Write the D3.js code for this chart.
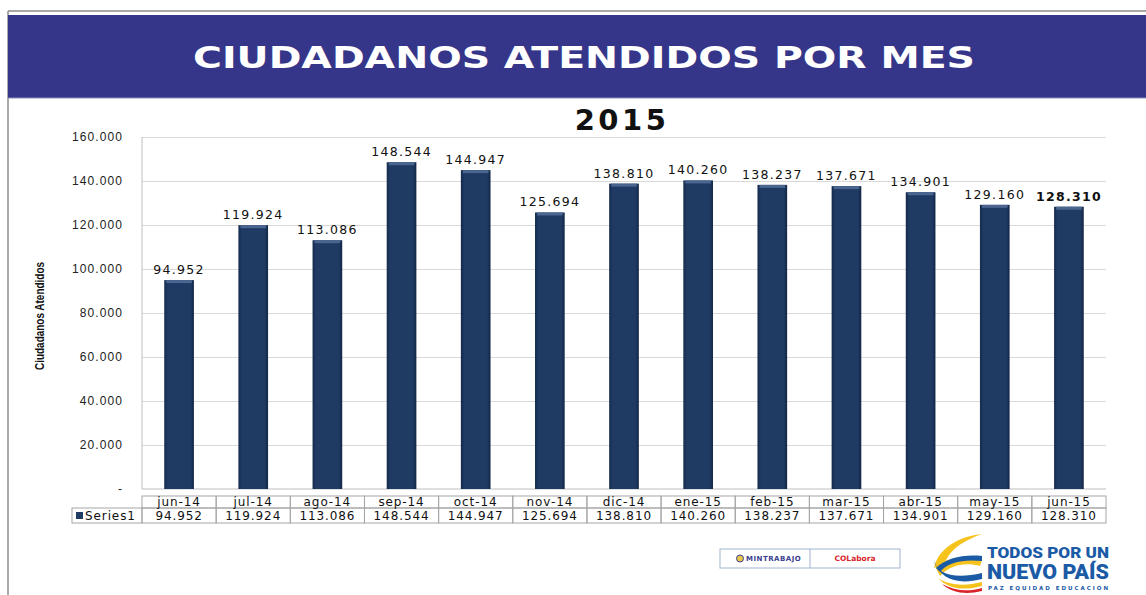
<!DOCTYPE html>
<html>
<head>
<meta charset="utf-8">
<title>Ciudadanos atendidos por mes</title>
<script src="https://cdn.jsdelivr.net/npm/d3@7"></script>
<style>
    body { margin:0; background:white; }
    svg { display:block; font-family:'DejaVu Sans', Verdana, sans-serif; }
    .grid line { stroke:#d9d9d9; }
    .grid path { display:none; }
    .yaxis path, .yaxis line { display:none; }
    .yaxis text { font-size:12px; fill:#222; letter-spacing:1.1px; }
    .lbl { font-size:12.5px; fill:#111; letter-spacing:1.3px; text-anchor:middle; }
    .tbl rect { fill:none; stroke:#a6a6a6; }
    .tbl text { font-size:12px; fill:#111; letter-spacing:0.9px; text-anchor:middle; }
</style>
</head>
<body>
<svg id="chart" width="1146" height="595"></svg>
<script>
// data
const months = ['jun-14','jul-14','ago-14','sep-14','oct-14','nov-14','dic-14',
                'ene-15','feb-15','mar-15','abr-15','may-15','jun-15'];
const atendidos = [94952, 119924, 113086, 148544, 144947, 125694, 138810,
                   140260, 138237, 137671, 134901, 129160, 128310];
const yTicks = [0, 20000, 40000, 60000, 80000, 100000, 120000, 140000, 160000];

const title = 'CIUDADANOS ATENDIDOS POR MES';
const subtitle = '2015';
const yTitle = 'Ciudadanos Atendidos';
const seriesName = 'Series1';

// layout
const plot = { left:142, right:1106, top:137, bottom:489 };
const rowH = 13;

const fmt = d3.formatLocale({ decimal:',', thousands:'.', grouping:[3], currency:['',''] }).format(',');

const svg = d3.select('#chart');

// gradient for the bevelled bars
const defs = svg.append('defs');
const grad = defs.append('linearGradient').attr('id','barGrad')
    .attr('x1','0').attr('x2','1').attr('y1','0').attr('y2','0');
grad.append('stop').attr('offset','0').attr('stop-color','#142a4c');
grad.append('stop').attr('offset','0.12').attr('stop-color','#1f3b64');
grad.append('stop').attr('offset','0.88').attr('stop-color','#1f3b64');
grad.append('stop').attr('offset','1').attr('stop-color','#122646');

// frame + header band
svg.append('line').attr('x1',8).attr('x2',1146).attr('y1',11).attr('y2',11)
    .attr('stroke','#8c8c8c').attr('stroke-width',1.5);
svg.append('line').attr('x1',8).attr('x2',8).attr('y1',11).attr('y2',595)
    .attr('stroke','#8c8c8c').attr('stroke-width',1.5);
svg.append('rect').attr('x',8).attr('y',15).attr('width',1138).attr('height',83)
    .attr('fill','#35368a');
svg.append('line').attr('x1',8).attr('x2',1146).attr('y1',98).attr('y2',98)
    .attr('stroke','#8e8fb8').attr('stroke-width',1);
svg.append('text').attr('x',584).attr('y',68).attr('text-anchor','middle')
    .attr('fill','white').attr('font-weight','bold').attr('font-size',30)
    .attr('textLength',782).attr('lengthAdjust','spacingAndGlyphs')
    .text(title);

svg.append('text').attr('x',622).attr('y',130).attr('text-anchor','middle')
    .attr('font-weight','bold').attr('font-size',29).attr('letter-spacing',3.5)
    .attr('fill','#111').text(subtitle);

// scales
const x = d3.scaleBand().domain(months).range([plot.left, plot.right])
    .paddingInner(0.6).paddingOuter(0.3);
const y = d3.scaleLinear().domain([0,160000]).range([plot.bottom, plot.top]);

// gridlines
svg.append('g').attr('class','grid')
    .attr('transform',`translate(${plot.left},0)`)
    .call(d3.axisLeft(y).tickValues(yTicks.slice(1)).tickSize(-(plot.right-plot.left)).tickFormat(''));
svg.append('line').attr('x1',plot.left).attr('x2',plot.left).attr('y1',plot.top).attr('y2',plot.bottom)
    .attr('stroke','#bfbfbf');
svg.append('line').attr('x1',plot.left).attr('x2',plot.right).attr('y1',plot.bottom).attr('y2',plot.bottom)
    .attr('stroke','#bfbfbf');

// y axis labels
svg.append('g').attr('class','yaxis')
    .attr('transform','translate(131,0)')
    .call(d3.axisLeft(y).tickValues(yTicks).tickSize(0).tickPadding(8)
        .tickFormat(d => d === 0 ? '-' : fmt(d)));

svg.append('text')
    .attr('transform','translate(44,316) rotate(-90)')
    .attr('text-anchor','middle')
    .attr('font-family',"'Liberation Sans Narrow','Arial Narrow','Liberation Sans',sans-serif")
    .attr('font-weight','bold').attr('font-size',13).attr('fill','#111')
    .attr('textLength',108).attr('lengthAdjust','spacingAndGlyphs')
    .text(yTitle);

// bars
const bars = svg.append('g').selectAll('g').data(atendidos).join('g');
bars.append('rect')
    .attr('x',(d,i) => x(months[i]))
    .attr('y',d => y(d))
    .attr('width',x.bandwidth())
    .attr('height',d => y(0) - y(d))
    .attr('fill','url(#barGrad)');
bars.append('rect')
    .attr('x',(d,i) => x(months[i]) + 2)
    .attr('y',d => y(d))
    .attr('width',x.bandwidth() - 4)
    .attr('height',3)
    .attr('fill','#4a6690');

// value labels
svg.append('g').selectAll('text').data(atendidos).join('text')
    .attr('class','lbl')
    .attr('x',(d,i) => x(months[i]) + x.bandwidth()/2)
    .attr('y',d => y(d) - 6)
    .attr('font-weight',(d,i) => i === atendidos.length-1 ? 'bold' : null)
    .text(d => fmt(d));

// data table
const tbl = svg.append('g').attr('class','tbl');
const t0 = 496;
months.forEach((m,i) => {
    const cx = plot.left + x.step()*i;
    tbl.append('rect').attr('x',cx).attr('y',t0).attr('width',x.step()).attr('height',12);
    tbl.append('rect').attr('x',cx).attr('y',t0+12).attr('width',x.step()).attr('height',rowH+2);
    tbl.append('text').attr('x',cx + x.step()/2).attr('y',t0+10).text(m);
    tbl.append('text').attr('x',cx + x.step()/2).attr('y',t0+24).text(fmt(atendidos[i]));
});
tbl.append('rect').attr('x',72).attr('y',t0+12).attr('width',plot.left-72).attr('height',rowH+2);
svg.append('rect').attr('x',76).attr('y',t0+16).attr('width',7).attr('height',7).attr('fill','#1f3b64');
svg.append('text').attr('x',85).attr('y',t0+24).attr('font-size',12).attr('letter-spacing',0.9)
    .attr('fill','#111').text(seriesName);

// footer logos
const logo = svg.append('g');
logo.append('rect').attr('x',720).attr('y',549).attr('width',180).attr('height',19)
    .attr('fill','white').attr('stroke','#9fb3d1');
logo.append('line').attr('x1',810).attr('x2',810).attr('y1',549).attr('y2',568).attr('stroke','#9fb3d1');
logo.append('circle').attr('cx',740).attr('cy',558.5).attr('r',3.5).attr('fill','#e8c64a').attr('stroke','#3b3f8f');
logo.append('text').attr('x',746).attr('y',561).attr('font-size',7).attr('font-weight','bold')
    .attr('fill','#3b3f8f').attr('letter-spacing',0.5).text('MINTRABAJO');
logo.append('text').attr('x',855).attr('y',561).attr('text-anchor','middle').attr('font-size',7.5)
    .attr('font-weight','bold').attr('fill','#d9252a').text('COLabora');

logo.append('path').attr('d','M982,534 C960,536 938,548 934,568 L946,560 C952,548 965,540 982,534 Z').attr('fill','#f6c21c');
logo.append('path').attr('d','M935,566 C948,557 965,556 982,560 L980,566 C965,562 950,565 940,576 Z').attr('fill','#f6c21c');
logo.append('path').attr('d','M934,560 C936,575 956,579 982,573 L982,579 C958,585 940,580 934,560 Z').attr('fill','#1b5ba6');
logo.append('path').attr('d','M936,568 C946,558 964,554 982,556 L982,561 C964,559 948,562 940,572 Z').attr('fill','#1b5ba6');
logo.append('path').attr('d','M938,578 C950,586 966,586 982,582 L982,586 C964,591 948,589 938,578 Z').attr('fill','#f6c21c');
logo.append('path').attr('d','M942,584 C955,591 968,592 982,588 L982,591 C966,595 952,593 942,584 Z').attr('fill','#d9252a');
logo.append('text').attr('x',987).attr('y',558).attr('font-family','Roboto, sans-serif').attr('font-weight',900)
    .attr('font-size',15).attr('fill','#1b5ba6').attr('textLength',122).attr('lengthAdjust','spacingAndGlyphs')
    .text('TODOS POR UN');
logo.append('text').attr('x',987).attr('y',579).attr('font-family','Roboto, sans-serif').attr('font-weight',900)
    .attr('font-size',20).attr('fill','#1b5ba6').attr('textLength',122).attr('lengthAdjust','spacingAndGlyphs')
    .text('NUEVO PAÍS');
logo.append('text').attr('x',988).attr('y',590).attr('font-size',5.5).attr('font-weight','bold')
    .attr('fill','#1b5ba6').attr('textLength',120).attr('lengthAdjust','spacing')
    .text('PAZ  EQUIDAD  EDUCACIÓN');
</script>
</body>
</html>
